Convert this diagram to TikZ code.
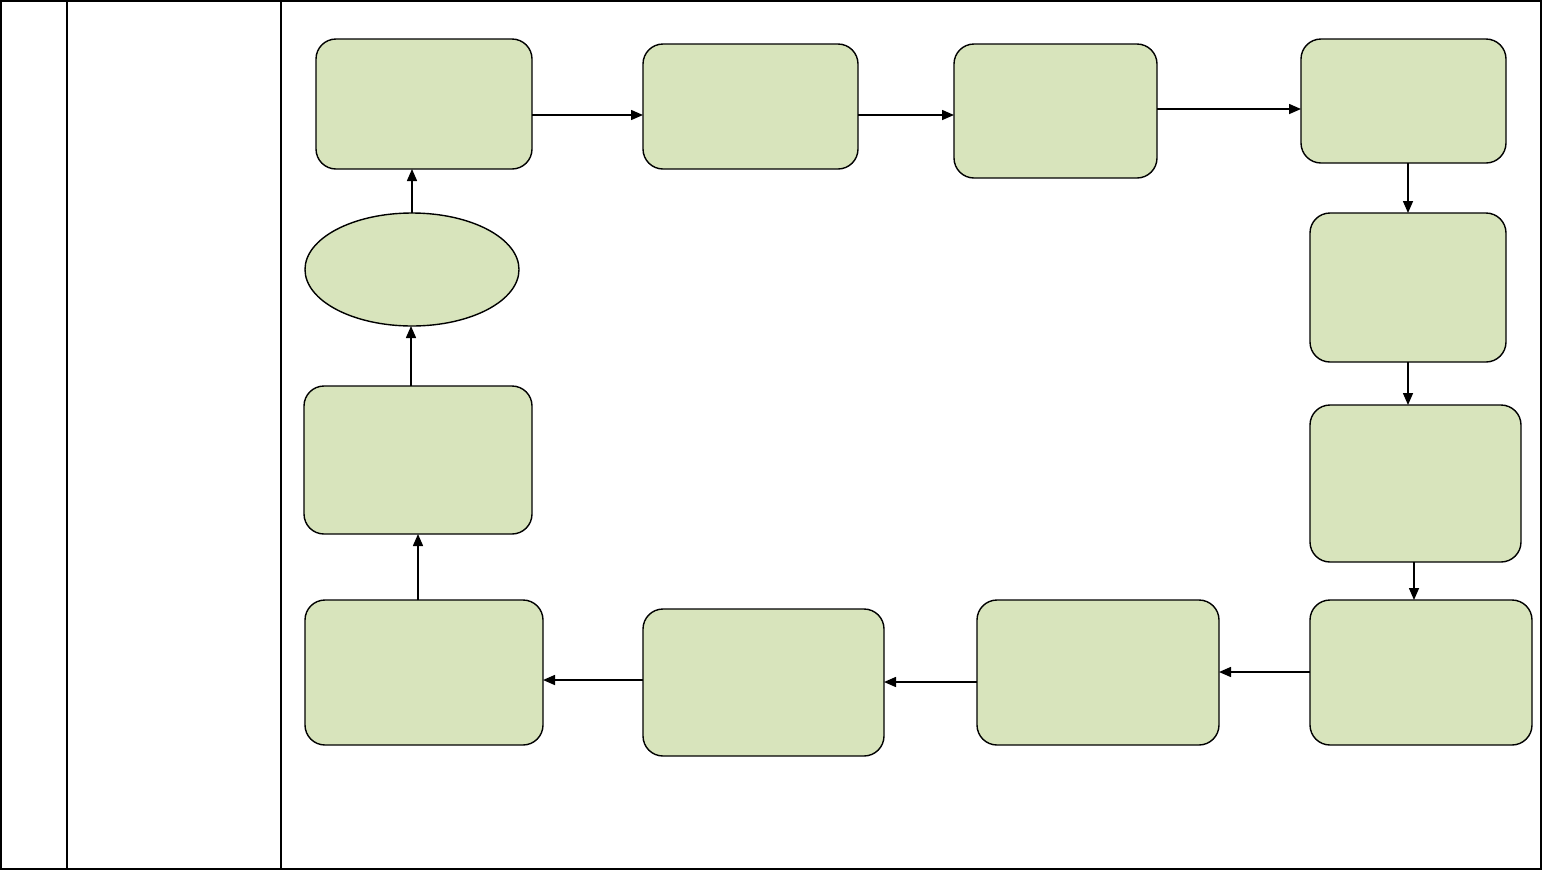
\documentclass[tikz,border=0pt]{standalone}
\usetikzlibrary{arrows.meta,shapes.geometric}
\definecolor{boxfill}{HTML}{D8E4BC}
\tikzset{
  box/.style={draw=black,fill=boxfill,line width=1.4pt,rounded corners=20pt,inner sep=0pt,outer sep=0pt},
  oval/.style={draw=black,fill=boxfill,line width=1.4pt,ellipse,inner sep=0pt,outer sep=0pt},
  arr/.style={line width=1.5pt,-{Triangle[length=12pt,width=10pt]}},
  frame/.style={line width=2pt}
}
\begin{document}
\begin{tikzpicture}[x=1pt,y=-1pt]
\useasboundingbox (0,0) rectangle (1543,871);
% table frame
\draw[frame] (1,1) rectangle (1541,869);
\draw[frame] (67,1) -- (67,869);
\draw[frame] (281,1) -- (281,869);
% nodes
\node[box,minimum width=216pt,minimum height=130pt] (A) at (424,104) {};
\node[box,minimum width=215pt,minimum height=125pt] (B) at (750.5,106.5) {};
\node[box,minimum width=203pt,minimum height=134pt] (C) at (1055.5,111) {};
\node[box,minimum width=205pt,minimum height=124pt] (D) at (1403.5,101) {};
\node[box,minimum width=196pt,minimum height=149pt] (E) at (1408,287.5) {};
\node[box,minimum width=211pt,minimum height=157pt] (F) at (1415.5,483.5) {};
\node[box,minimum width=222pt,minimum height=145pt] (G) at (1421,672.5) {};
\node[box,minimum width=242pt,minimum height=145pt] (H) at (1098,672.5) {};
\node[box,minimum width=241pt,minimum height=147pt] (I) at (763.5,682.5) {};
\node[box,minimum width=238pt,minimum height=145pt] (J) at (424,672.5) {};
\node[box,minimum width=228pt,minimum height=148pt] (K) at (418,460) {};
\node[oval,minimum width=214pt,minimum height=113pt] (L) at (412,269.5) {};
% connectors
\draw[arr] (A.east|-{(0,115)}) -- (B.west|-{(0,115)});
\draw[arr] (B.east|-{(0,115)}) -- (C.west|-{(0,115)});
\draw[arr] (C.east|-{(0,109)}) -- (D.west|-{(0,109)});
\draw[arr] (D.south-|{(1408,0)}) -- (E.north-|{(1408,0)});
\draw[arr] (E.south-|{(1408,0)}) -- (F.north-|{(1408,0)});
\draw[arr] (F.south-|{(1414,0)}) -- (G.north-|{(1414,0)});
\draw[arr] (G.west|-{(0,672)}) -- (H.east|-{(0,672)});
\draw[arr] (H.west|-{(0,682)}) -- (I.east|-{(0,682)});
\draw[arr] (I.west|-{(0,680)}) -- (J.east|-{(0,680)});
\draw[arr] (J.north-|{(418,0)}) -- (K.south-|{(418,0)});
\draw[arr] (K.north-|{(411,0)}) -- (L.south-|{(411,0)});
\draw[arr] (L.north) -- (A.south-|{(412,0)});
\end{tikzpicture}
\end{document}
